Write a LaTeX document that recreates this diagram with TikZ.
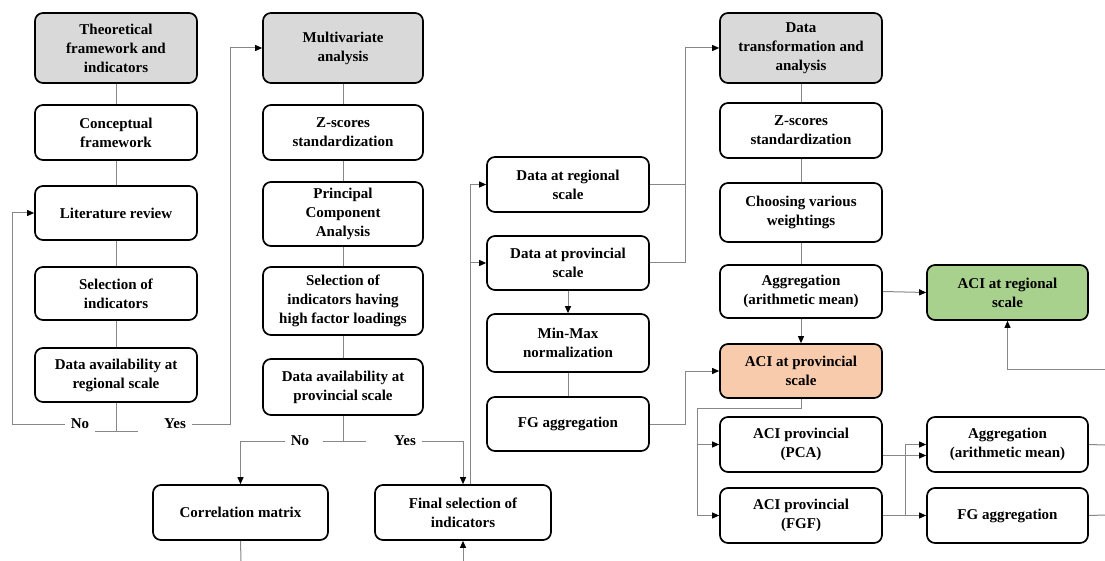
\documentclass[tikz,border=0pt]{standalone}
\usepackage{fontspec}
\setmainfont{Liberation Serif}
\usetikzlibrary{arrows.meta}
\definecolor{boxgray}{RGB}{217,217,217}
\definecolor{boxorange}{RGB}{248,203,173}
\definecolor{boxgreen}{RGB}{169,209,142}
\definecolor{linegray}{RGB}{135,135,135}
\tikzset{
  x=1pt, y=-1pt,
  box/.style={draw=black, line width=1.7pt, rounded corners=8pt, fill=white,
    inner sep=0pt, align=center, minimum width=162pt, minimum height=55pt,
    font=\fontsize{15}{19}\selectfont\bfseries},
  conn/.style={draw=linegray, line width=1pt},
  arr/.style={conn, -{Triangle[length=7pt,width=6pt,color=black]}},
  lbl/.style={inner sep=0pt, font=\fontsize{15}{19}\selectfont\bfseries}
}
\begin{document}
\begin{tikzpicture}
\useasboundingbox (0,0) rectangle (1105,561);

% first column: theoretical framework
\node[box, fill=boxgray, minimum height=70pt] (theo) at (116,48) {Theoretical\\framework and\\indicators};
\node[box] (concept) at (116,132.5) {Conceptual\\framework};
\node[box, minimum height=54pt] (lit) at (116,213) {Literature review};
\node[box, minimum height=53pt] (selind) at (116,293.5) {Selection of\\indicators};
\node[box, minimum height=54pt] (availreg) at (116,375) {Data availability at\\regional scale};
\node[lbl] (no1) at (80,424) {No};
\node[lbl] (yes1) at (175,424) {Yes};

% second column: multivariate analysis
\node[box, fill=boxgray, minimum width=160pt, minimum height=70pt] (multi) at (343,48) {Multivariate\\analysis};
\node[box, minimum width=160pt] (zs1) at (343,132.5) {Z-scores\\standardization};
\node[box, minimum width=160pt, minimum height=64pt] (pca) at (343,214) {Principal\\Component\\Analysis};
\node[box, minimum width=160pt, minimum height=68pt] (selhigh) at (343,301) {Selection of\\indicators having\\high factor loadings};
\node[box, minimum width=160pt, minimum height=56pt] (availprov) at (343,387) {Data availability at\\provincial scale};
\node[lbl] (no2) at (300,441) {No};
\node[lbl] (yes2) at (405,441) {Yes};
\node[box, minimum width=175pt] (corr) at (240.5,512.5) {Correlation matrix};
\node[box, minimum width=176pt] (final) at (463,512.5) {Final selection of\\indicators};

% third column: data sets
\node[box] (datareg) at (568,184.5) {Data at regional\\scale};
\node[box, minimum height=54pt] (dataprov) at (568,263) {Data at provincial\\scale};
\node[box, minimum height=58pt] (minmax) at (568,343) {Min-Max\\normalization};
\node[box, minimum height=54pt] (fg1) at (568,424) {FG aggregation};

% fourth column: transformation and composite index
\node[box, fill=boxgray, minimum height=70pt] (trans) at (801,48) {Data\\transformation and\\analysis};
\node[box] (zs2) at (801,130.5) {Z-scores\\standardization};
\node[box, minimum height=59pt] (weights) at (801,212.5) {Choosing various\\weightings};
\node[box, minimum height=53pt] (aggr1) at (801,291.5) {Aggregation\\(arithmetic mean)};
\node[box, fill=boxorange, minimum height=54pt] (aciprov) at (801,371) {ACI at provincial\\scale};
\node[box] (acipca) at (801,444.5) {ACI provincial\\(PCA)};
\node[box] (acifgf) at (801,515.5) {ACI provincial\\(FGF)};

% fifth column
\node[box, fill=boxgreen, minimum width=161pt] (acireg) at (1007.5,292.5) {ACI at regional\\scale};
\node[box, minimum width=161pt] (aggr2) at (1007.5,444.5) {Aggregation\\(arithmetic mean)};
\node[box, minimum width=161pt] (fg2) at (1007.5,515.5) {FG aggregation};

% free ends at the picture border
\coordinate (out1) at (1105,445);
\coordinate (out2) at (1105,515);
\coordinate (in1) at (1105,369);
\coordinate (corrend) at (241,561);
\coordinate (finalin) at (463,561);

% column one links
\draw[conn] (theo) -- (concept);
\draw[conn] (concept) -- (lit);
\draw[conn] (lit) -- (selind);
\draw[conn] (selind) -- (availreg);
\draw[conn] (availreg.south) -- (116,431);
\draw[conn] (95,431) -- (138,431);
\draw[arr] (no1.west) ++(-6,0) -- (12,424) |- (lit.west);
\draw[arr] (yes1.east) ++(6,0) -- (230,424) |- (multi.west);

% column two links
\draw[conn] (multi) -- (zs1);
\draw[conn] (zs1) -- (pca);
\draw[conn] (pca) -- (selhigh);
\draw[conn] (selhigh) -- (availprov);
\draw[conn] (availprov.south) -- (343,441);
\draw[conn] (323,441) -- (366,441);
\draw[arr] (no2.west) ++(-6,0) -| (corr.north);
\draw[arr] (yes2.east) ++(6,0) -| (final.north);
\draw[conn] (corr.south) -- (corrend);
\draw[arr] (finalin) -- (final.south);
\draw[arr] ([xshift=7pt]final.north) |- (datareg.west);
\draw[arr] (470,263) -- (dataprov.west);

% column three links
\draw[conn] (datareg.east) -- (685,184.5);
\draw[arr] (dataprov.east) -- (685,263) |- (trans.west);
\draw[arr] (dataprov) -- (minmax);
\draw[conn] (minmax) -- (fg1);
\draw[arr] (fg1.east) -- (685,424) |- (aciprov.west);

% column four links
\draw[conn] (trans) -- (zs2);
\draw[conn] (zs2) -- (weights);
\draw[conn] (weights) -- (aggr1);
\draw[arr] (aggr1) -- (aciprov);
\draw[arr] (aggr1.east) -- (acireg.west);
\draw[arr] (aciprov.south) -- (801,408) -| (697,470) |- (acifgf.west);
\draw[arr] (697,444.5) -- (acipca.west);

% column five links
\draw[arr] ([yshift=-11pt]acipca.east) -- ([yshift=-11pt]aggr2.west);
\draw[arr] (acifgf.east) -- (fg2.west);
\draw[arr] (905,515.5) |- (aggr2.west);
\draw[conn] (aggr2.east) -- (out1);
\draw[conn] (fg2.east) -- (out2);
\draw[arr] (in1) -| (acireg.south);
\end{tikzpicture}
\end{document}
